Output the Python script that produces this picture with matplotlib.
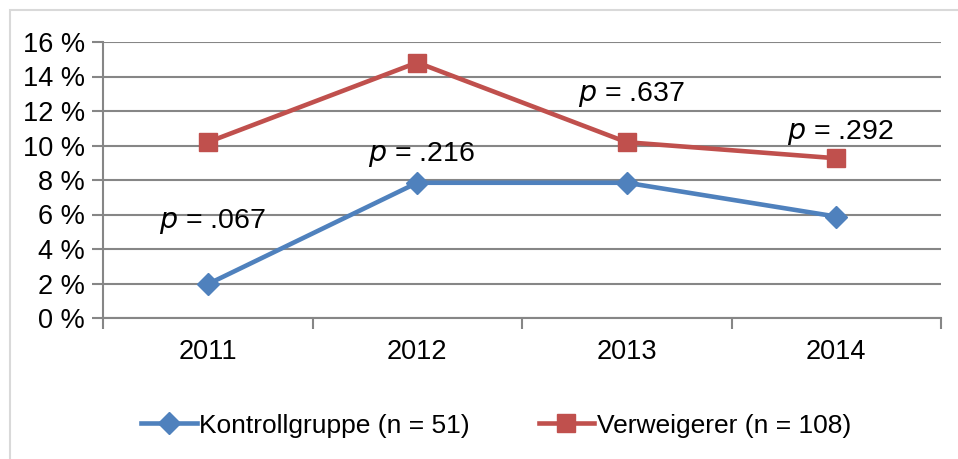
import matplotlib
matplotlib.use("Agg")
import matplotlib.pyplot as plt
from matplotlib.patches import Rectangle

plt.rcParams['font.family'] = ['Liberation Sans', 'DejaVu Sans']

# === Daten ===
jahre = ["2011", "2012", "2013", "2014"]
kontroll = [1.96, 7.84, 7.84, 5.88]      # Kontrollgruppe (n = 51)
verweigerer = [10.19, 14.81, 10.19, 9.26]  # Verweigerer (n = 108)
p_texte = ["= .067", "= .216", "= .637", "= .292"]
p_pos_y = [5.57, 9.45, 12.93, 10.78]

BLAU = "#4F81BD"
ROT = "#C0504D"
GRAU = "#868686"

fig = plt.figure(figsize=(9.58, 4.59), dpi=100)
ax = fig.add_axes([103/958, 1 - 318/459, 838/958, 276/459])

# Rahmen um die Grafik
fig.patches.append(Rectangle((10/958, -0.05), 1.0, 1 - 10/459 + 0.05,
                             transform=fig.transFigure, fill=False,
                             edgecolor="#D9D9D9", linewidth=1.5))

x = range(len(jahre))
ax.plot(x, kontroll, color=BLAU, lw=3.3, marker="D", ms=11,
        label="Kontrollgruppe (n = 51)", zorder=3)
ax.plot(x, verweigerer, color=ROT, lw=3.3, marker="s", ms=13.5,
        label="Verweigerer (n = 108)", zorder=3)

for i, (txt, yy) in enumerate(zip(p_texte, p_pos_y)):
    ax.text(i + 0.02, yy, r"$\mathit{p}$ " + txt, fontsize=20.5,
            ha="center", va="center", zorder=4)

ax.set_xlim(-0.5, 3.5)
ax.set_ylim(0, 16)
ax.set_yticks(range(0, 17, 2))
ax.set_yticklabels([f"{v} %" for v in range(0, 17, 2)])
ax.yaxis.grid(True, color=GRAU, lw=1.5)
ax.set_axisbelow(True)

ax.set_xticks(list(x))
ax.set_xticklabels(jahre)
ax.set_xticks([-0.5, 0.5, 1.5, 2.5, 3.5], minor=True)
ax.tick_params(axis="x", which="major", length=0, pad=15, labelsize=19.5)
ax.tick_params(axis="x", which="minor", length=8, width=1.5, color=GRAU)
ax.tick_params(axis="y", length=8, width=1.5, color=GRAU, labelsize=19.5, pad=5)

for s in ["top", "right"]:
    ax.spines[s].set_visible(False)
for s in ["left", "bottom"]:
    ax.spines[s].set_color(GRAU)
    ax.spines[s].set_linewidth(1.5)

ax.legend(loc="center", bbox_to_anchor=(0.469, -0.39), ncol=2, frameon=False,
          fontsize=19, handlelength=2.1, handletextpad=0.1, columnspacing=2.6)

fig.savefig("out.png", dpi=100)
